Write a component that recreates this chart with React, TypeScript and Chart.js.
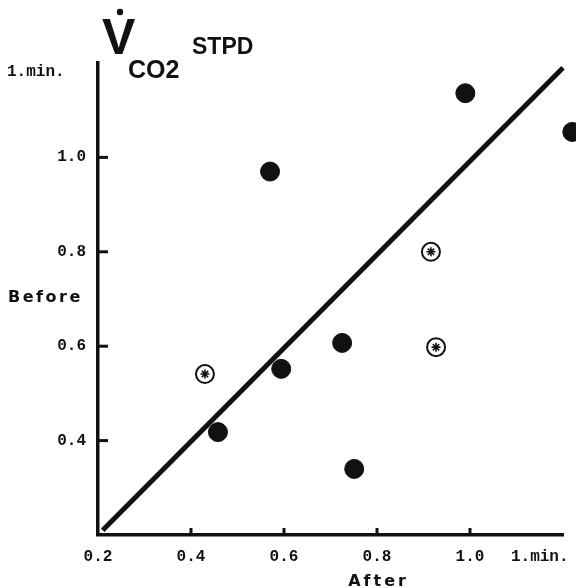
import React, { useEffect, useRef } from "react";
import { Chart, registerables } from "chart.js";

Chart.register(...registerables);

// Data (l/min)
const filledAfter = [0.57, 0.99, 1.22, 0.725, 0.594, 0.458, 0.751];
const filledBefore = [0.97, 1.136, 1.054, 0.607, 0.552, 0.418, 0.34];
const openAfter = [0.43, 0.916, 0.927];
const openBefore = [0.541, 0.8, 0.598];
const lineAfter = [0.21, 1.2];
const lineBefore = [0.21, 1.19];

const xTickValues = [0.2, 0.4, 0.6, 0.8, 1.0, 1.15];
const xTickLabels = ["0.2", "0.4", "0.6", "0.8", "1.0", "1.min."];
const yTickValues = [0.4, 0.6, 0.8, 1.0];
const yTickLabels = ["0.4", "0.6", "0.8", "1.0"];
const xMarkValues = [0.4, 0.6, 0.8, 1.0];
const yMarkValues = [0.4, 0.6, 0.8, 1.0];

const yUnitLabel = "1.min.";
const yUnitAt = 1.18;
const yTitle = "Before";
const yTitleAt = 0.706;
const xTitle = "After";
const xTitleAt = 0.8;

const INK = "#111111";

function spacedText(ctx: CanvasRenderingContext2D, text: string, x: number, y: number, spacing: number, align: "left" | "center") {
  let total = 0;
  const widths = text.split("").map((c) => ctx.measureText(c).width);
  widths.forEach((w) => (total += w));
  total += spacing * (text.length - 1);
  let cx = align === "center" ? x - total / 2 : x;
  ctx.textAlign = "left";
  text.split("").forEach((c, i) => {
    ctx.fillText(c, cx, y);
    cx += widths[i] + spacing;
  });
}

const decorPlugin = {
  id: "decor",
  afterDraw(chart: any) {
    const ctx: CanvasRenderingContext2D = chart.ctx;
    const xs = chart.scales.x;
    const ys = chart.scales.y;
    const area = chart.chartArea;
    ctx.save();
    ctx.strokeStyle = INK;
    ctx.fillStyle = INK;
    ctx.lineWidth = 3;
    // inward tick marks
    xMarkValues.forEach((v) => {
      const px = xs.getPixelForValue(v);
      ctx.beginPath();
      ctx.moveTo(px, area.bottom);
      ctx.lineTo(px, area.bottom - 7);
      ctx.stroke();
    });
    yMarkValues.forEach((v) => {
      const py = ys.getPixelForValue(v);
      ctx.beginPath();
      ctx.moveTo(area.left, py);
      ctx.lineTo(area.left + 10, py);
      ctx.stroke();
    });

    // y unit label
    ctx.font = "bold 16px 'Liberation Mono'";
    ctx.textBaseline = "middle";
    ctx.textAlign = "left";
    ctx.fillText(yUnitLabel, 7, ys.getPixelForValue(yUnitAt));

    // axis titles
    ctx.font = "bold 16px 'DejaVu Sans'";
    ctx.textBaseline = "middle";
    spacedText(ctx, yTitle, 8, ys.getPixelForValue(yTitleAt) + 2, 2.5, "left");
    ctx.textBaseline = "alphabetic";
    spacedText(ctx, xTitle, xs.getPixelForValue(xTitleAt), 586, 3, "center");

    // title V-dot CO2 STPD
    ctx.textAlign = "left";
    ctx.textBaseline = "alphabetic";
    ctx.font = "bold 50px 'Liberation Sans'";
    ctx.fillText("V", 102, 54);
    ctx.beginPath();
    ctx.arc(120, 12, 3.2, 0, Math.PI * 2);
    ctx.fill();
    ctx.font = "bold 25px 'Liberation Sans'";
    ctx.fillText("CO2", 128, 78);
    ctx.font = "bold 23px 'Liberation Sans'";
    ctx.fillText("STPD", 192, 54);
    ctx.restore();
  },
};

export default function App() {
  const ref = useRef<HTMLCanvasElement | null>(null);
  useEffect(() => {
    if (!ref.current) return;
    const chart = new Chart(ref.current, {
      type: "scatter",
      data: {
        datasets: [
          {
            type: "line",
            label: "identity",
            data: lineAfter.map((x, i) => ({ x, y: lineBefore[i] })),
            borderColor: INK,
            borderWidth: 5,
            pointRadius: 0,
            fill: false,
            clip: false as any,
            order: 3,
          } as any,
          {
            label: "filled",
            data: filledAfter.map((x, i) => ({ x, y: filledBefore[i] })),
            backgroundColor: INK,
            borderColor: INK,
            pointRadius: 9.5,
            pointHoverRadius: 9.5,
            borderWidth: 1,
            clip: false as any,
            order: 1,
          },
          {
            label: "open",
            data: openAfter.map((x, i) => ({ x, y: openBefore[i] })),
            backgroundColor: "#ffffff",
            borderColor: INK,
            pointRadius: 9,
            borderWidth: 2,
            clip: false as any,
            order: 1,
          },
          {
            label: "open-star",
            data: openAfter.map((x, i) => ({ x, y: openBefore[i] })),
            pointStyle: "star",
            backgroundColor: INK,
            borderColor: INK,
            pointRadius: 4.5,
            borderWidth: 1.6,
            clip: false as any,
            order: 0,
          },
        ],
      },
      options: {
        animation: false,
        responsive: true,
        maintainAspectRatio: false,
        devicePixelRatio: 1,
        layout: { padding: { left: 0, top: 63, right: 13, bottom: 0 } },
        plugins: { legend: { display: false }, tooltip: { enabled: false }, title: { display: false } },
        scales: {
          x: {
            type: "linear",
            min: 0.2,
            max: 1.2,
            afterBuildTicks: (scale: any) => {
              scale.ticks = xTickValues.map((v) => ({ value: v }));
            },
            afterFit: (scale: any) => {
              scale.height = 53;
              scale.paddingLeft = 0;
              scale.paddingRight = 0;
            },
            grid: { display: true, drawOnChartArea: false, drawTicks: false },
            border: { display: true, color: INK, width: 3.5 },
            ticks: {
              autoSkip: false,
              maxRotation: 0,
              padding: 12,
              color: INK,
              font: { family: "'Liberation Mono'", size: 16, weight: "bold" },
              callback: (_v: any, i: number) => xTickLabels[i],
            },
          },
          y: {
            type: "linear",
            min: 0.2,
            max: 1.2,
            afterBuildTicks: (scale: any) => {
              scale.ticks = yTickValues.map((v) => ({ value: v }));
            },
            afterFit: (scale: any) => {
              scale.width = 98;
              scale.paddingTop = 0;
              scale.paddingBottom = 0;
            },
            grid: { display: true, drawOnChartArea: false, drawTicks: false },
            border: { display: true, color: INK, width: 3.5 },
            ticks: {
              autoSkip: false,
              padding: 12,
              color: INK,
              font: { family: "'Liberation Mono'", size: 16, weight: "bold" },
              callback: (_v: any, i: number) => yTickLabels[i],
            },
          },
        },
      },
      plugins: [decorPlugin],
    });
    return () => chart.destroy();
  }, []);
  return (
    <div style={{ position: "absolute", left: 0, top: 0, width: 576, height: 588, background: "#fff" }}>
      <canvas ref={ref} />
    </div>
  );
}
